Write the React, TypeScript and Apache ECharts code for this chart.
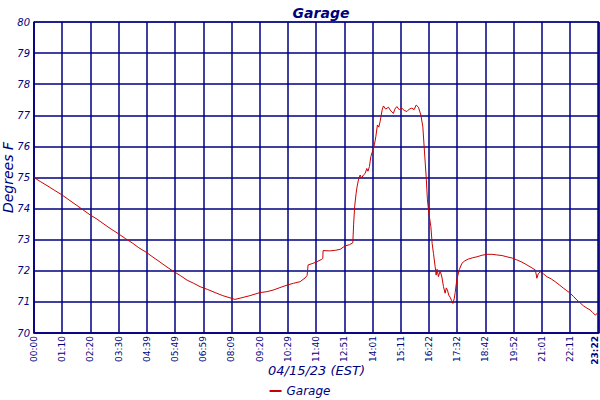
import React, { useEffect, useRef } from "react";
import * as echarts from "echarts";

const tickLabels = [
  "00:00", "01:10", "02:20", "03:30", "04:39", "05:49", "06:59", "08:09", "09:20", "10:29",
  "11:40", "12:51", "14:01", "15:11", "16:22", "17:32", "18:42", "19:52", "21:01", "22:11", "23:22",
];

// minutes since midnight
const times = [
  0, 17, 34.9, 52, 69.7, 87, 104.6, 122, 139.4, 157, 174.3, 192, 209.1, 227, 244, 261, 278.8, 296,
  313.7, 331, 348.5, 365, 380.9, 397, 413.2, 432, 450.6, 470, 490.4, 500, 512.8, 537, 562.6, 580,
  595, 612, 629.8, 646, 662.2, 674.6, 679.6, 682.1, 692, 703.8, 716.2, 718.7, 719.4, 736.9, 750,
  761.8, 774.2, 785, 793.4, 795.4, 797.9, 801.6, 804, 807.3, 811.6, 815, 819.8, 824, 828.2, 831,
  834.7, 838.2, 844.7, 847, 850.6, 854.6, 858, 861.3, 866.3, 869.6, 875, 882, 888, 894.4, 898,
  902.9, 909, 915.4, 921, 927.8, 934, 940.2, 946, 951, 956.7, 962.7, 967.6, 970.9, 975.9, 979.1,
  982.6, 987.6, 990.8, 994.1, 998.3, 1000.7, 1003, 1006.5, 1010.7, 1015, 1019, 1023.1, 1026,
  1028.9, 1032, 1035.6, 1039, 1042.3, 1045.6, 1048.1, 1052.3, 1058.8, 1064.8, 1072, 1081.2, 1092,
  1102.1, 1115, 1127, 1140, 1151.9, 1165, 1176.8, 1190, 1201.6, 1214, 1226.5, 1237, 1247.2,
  1249.5, 1251.4, 1254.7, 1259.6, 1268, 1276.3, 1287, 1297, 1307, 1317.6, 1326, 1334.3, 1343,
  1351, 1359, 1367.5, 1376, 1384.1, 1390, 1396.6, 1401, 1404.8,
];

const temps = [
  75.0, 74.86, 74.72, 74.58, 74.44, 74.28, 74.12, 73.96, 73.8, 73.66, 73.5, 73.34, 73.2, 73.04,
  72.9, 72.74, 72.6, 72.44, 72.28, 72.12, 71.97, 71.84, 71.7, 71.6, 71.49, 71.4, 71.3, 71.2,
  71.12, 71.08, 71.12, 71.2, 71.3, 71.33, 71.38, 71.46, 71.54, 71.6, 71.65, 71.77, 71.85, 72.19,
  72.23, 72.29, 72.37, 72.4, 72.65, 72.64, 72.66, 72.69, 72.8, 72.84, 72.9, 73.5, 74.06, 74.49,
  74.7, 74.92, 75.08, 74.98, 75.08, 75.13, 75.29, 75.2, 75.35, 75.67, 75.94, 76.05, 76.31, 76.69,
  76.62, 76.8, 77.17, 77.3, 77.2, 77.26, 77.14, 77.06, 77.2, 77.28, 77.18, 77.23, 77.16, 77.12,
  77.2, 77.23, 77.18, 77.33, 77.26, 77.01, 76.63, 75.99, 75.02, 74.28, 73.85, 73.42, 72.88,
  72.56, 72.13, 71.86, 72.05, 71.81, 72.0, 71.8, 71.49, 71.28, 71.45, 71.38, 71.22, 71.15, 71.05,
  70.95, 71.1, 71.3, 71.73, 72.05, 72.24, 72.32, 72.38, 72.42, 72.45, 72.5, 72.53, 72.53, 72.51,
  72.49, 72.45, 72.41, 72.35, 72.28, 72.19, 72.11, 72.03, 71.9, 71.76, 71.9, 71.97, 71.9, 71.81,
  71.74, 71.65, 71.55, 71.44, 71.36, 71.28, 71.17, 71.06, 70.97, 70.87, 70.8, 70.74, 70.66,
  70.58, 70.62, 70.55,
];

const navy = "#000080";
const font = "DejaVu Sans";

export default function App() {
  const ref = useRef<HTMLDivElement>(null);
  useEffect(() => {
    document.body.style.margin = "0";
    const chart = echarts.init(ref.current!, null, { renderer: "svg" });
    const step = 70.2;
    const lastIdx = tickLabels.length - 1;
    chart.setOption({
      animation: false,
      title: {
        text: "Garage",
        left: 316,
        top: 1,
        textAlign: "center",
        textStyle: { color: navy, fontFamily: font, fontStyle: "italic", fontWeight: "bold", fontSize: 14 },
      },
      legend: {
        top: 380,
        left: "center",
        icon: "rect",
        itemWidth: 12,
        itemHeight: 2,
        itemGap: 4,
        textStyle: { color: navy, fontFamily: font, fontStyle: "italic", fontSize: 12 },
        data: ["Garage"],
      },
      grid: {
        left: 34,
        right: 1,
        top: 22,
        bottom: 67,
        containLabel: false,
        outerBoundsMode: "none",
        show: true,
        borderColor: navy,
        borderWidth: 1,
        backgroundColor: "transparent",
      },
      xAxis: {
        type: "value",
        min: 0,
        max: 1406,
        interval: step,
        name: "04/15/23 (EST)",
        nameLocation: "middle",
        nameGap: 31,
        nameMoveOverlap: false,
        nameTextStyle: { color: navy, fontFamily: font, fontStyle: "italic", fontSize: 13 },
        axisLine: { show: true, lineStyle: { color: navy, width: 1.5 } },
        axisTick: { show: false },
        splitLine: { show: true, lineStyle: { color: navy, width: 1.5 } },
        axisLabel: {
          rotate: 90,
          margin: 3,
          color: navy,
          fontFamily: font,
          fontSize: 9,
          showMinLabel: true,
          showMaxLabel: false,
          rich: {
            last: { color: navy, fontFamily: font, fontSize: 9, fontWeight: "bold", padding: [0, 0, 6, 0] },
          },
          formatter: (v: number) => {
            if (v > 1405) return "";
            const i = Math.round(v / step);
            if (i === lastIdx) return `{last|${tickLabels[i]}}`;
            return tickLabels[i] ?? "";
          },
        },
      },
      yAxis: {
        type: "value",
        min: 70,
        max: 80,
        interval: 1,
        name: "Degrees F",
        nameLocation: "middle",
        nameGap: 19,
        nameMoveOverlap: false,
        nameTextStyle: { color: navy, fontFamily: font, fontStyle: "italic", fontSize: 14 },
        axisLine: { show: true, lineStyle: { color: navy, width: 1.5 } },
        axisTick: { show: false },
        splitLine: { show: true, lineStyle: { color: navy, width: 1.5 } },
        axisLabel: { color: navy, fontFamily: font, fontStyle: "italic", fontSize: 10, margin: 4 },
      },
      series: [
        {
          name: "Garage",
          type: "line",
          showSymbol: false,
          symbol: "none",
          lineStyle: { color: "#cc0000", width: 1 },
          itemStyle: { color: "#cc0000" },
          data: times.map((t, i) => [t, temps[i]]),
        },
      ],
    });
    return () => chart.dispose();
  }, []);
  return <div ref={ref} style={{ width: 600, height: 400 }} />;
}
